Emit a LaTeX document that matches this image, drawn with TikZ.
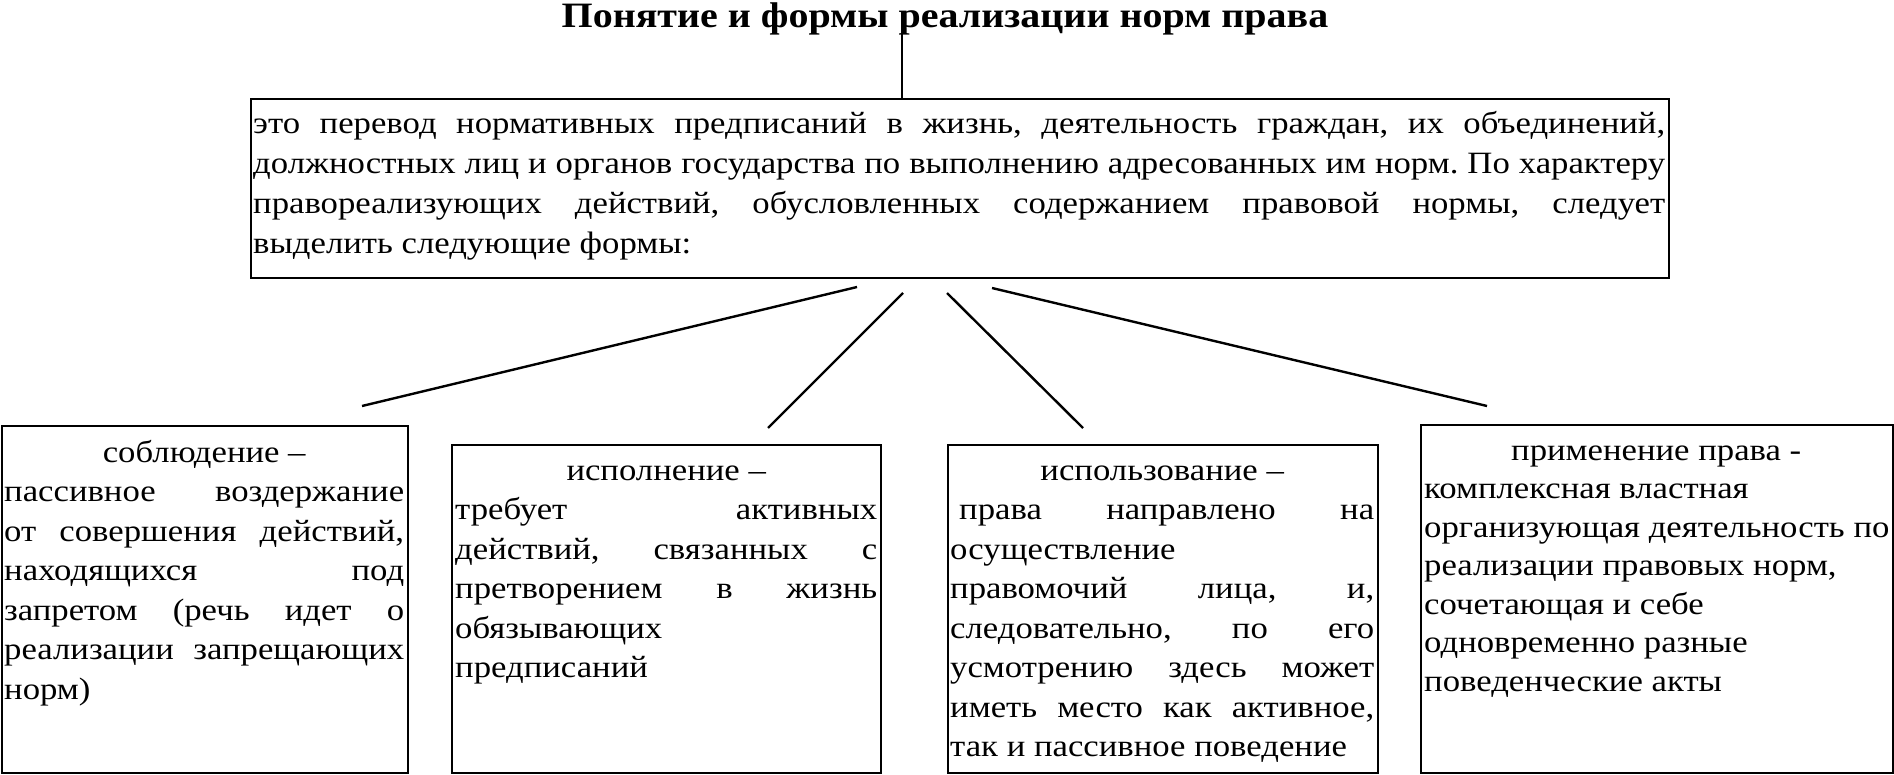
\documentclass[tikz,border=0pt]{standalone}
\usepackage{fontspec}
\setmainfont{Liberation Serif}[FakeStretch=1.12]
\frenchspacing
\newcommand\jl[2]{\makebox[#1][s]{#2}}
\newcommand\ctr[2]{\makebox[#1][c]{#2}}
\newcommand\fst{\rule{0pt}{30pt}}
\tikzset{
  frame/.style={draw, line width=2pt, inner sep=0pt, anchor=north west},
  txt/.style={inner sep=0pt, anchor=north west, align=left, font=\fontsize{31}{39.5}\selectfont},
  link/.style={line width=2.4pt},
}
\begin{document}
\begin{tikzpicture}[x=1pt,y=-1pt]
\useasboundingbox (0,0) rectangle (1894,774);
% title
\node[inner sep=0pt, anchor=base, font=\bfseries\fontsize{35.7}{40}\selectfont] (title) at (945,27) {Понятие и формы реализации норм права};
% main box
\node[frame, minimum width=1418pt, minimum height=179pt] (main) at (250,98) {};
\node[txt, font=\fontsize{31}{40}\selectfont] (maintxt) at ([xshift=3pt,yshift=-5pt]main.north west) {\fst\jl{1412pt}{это перевод нормативных предписаний в жизнь, деятельность граждан, их объединений,}\\
\jl{1412pt}{должностных лиц и органов государства по выполнению адресованных им норм. По характеру}\\
\jl{1412pt}{правореализующих действий, обусловленных содержанием правовой нормы, следует}\\
выделить следующие формы:};
% lower boxes
\node[frame, minimum width=406pt, minimum height=347pt] (b1) at (1,425) {};
\node[frame, minimum width=429pt, minimum height=328pt] (b2) at (451,444) {};
\node[frame, minimum width=430pt, minimum height=328pt] (b3) at (947,444) {};
\node[frame, minimum width=472pt, minimum height=348pt] (b4) at (1420,424) {};
\node[txt] (t1) at ([xshift=3pt,yshift=-7pt]b1.north west) {\fst\ctr{400pt}{соблюдение –}\\
\jl{400pt}{пассивное воздержание}\\
\jl{400pt}{от совершения действий,}\\
\jl{400pt}{находящихся под}\\
\jl{400pt}{запретом (речь идет о}\\
\jl{400pt}{реализации запрещающих}\\
норм)};
\node[txt] (t2) at ([xshift=4pt,yshift=-6pt]b2.north west) {\fst\ctr{422pt}{исполнение –}\\
\jl{422pt}{требует активных}\\
\jl{422pt}{действий, связанных с}\\
\jl{422pt}{претворением в жизнь}\\
обязывающих\\
предписаний};
\node[txt] (t3) at ([xshift=3pt,yshift=-6pt]b3.north west) {\fst\ctr{424pt}{использование –}\\
\jl{424pt}{\hspace*{9pt}права направлено на}\\
осуществление\\
\jl{424pt}{правомочий лица, и,}\\
\jl{424pt}{следовательно, по его}\\
\jl{424pt}{усмотрению здесь может}\\
\jl{424pt}{иметь место как активное,}\\
так и пассивное поведение};
\node[txt, font=\fontsize{31}{38.5}\selectfont] (t4) at ([xshift=4pt,yshift=-6pt]b4.north west) {\fst\ctr{464pt}{применение права -}\\
комплексная властная\\
организующая деятельность по\\
реализации правовых норм,\\
сочетающая и себе\\
одновременно разные\\
поведенческие акты};
% connectors
\coordinate (vtop) at (902,34);
\draw[line width=1.6pt] (vtop) -- (vtop |- main.north);
\coordinate (s1) at (857,287); \coordinate (e1) at (362,406);
\coordinate (s2) at (903,293); \coordinate (e2) at (768,428);
\coordinate (s3) at (947,293); \coordinate (e3) at (1083,428);
\coordinate (s4) at (992,288); \coordinate (e4) at (1487,406);
\draw[link] (s1) -- (e1);
\draw[link] (s2) -- (e2);
\draw[link] (s3) -- (e3);
\draw[link] (s4) -- (e4);
\end{tikzpicture}
\end{document}
